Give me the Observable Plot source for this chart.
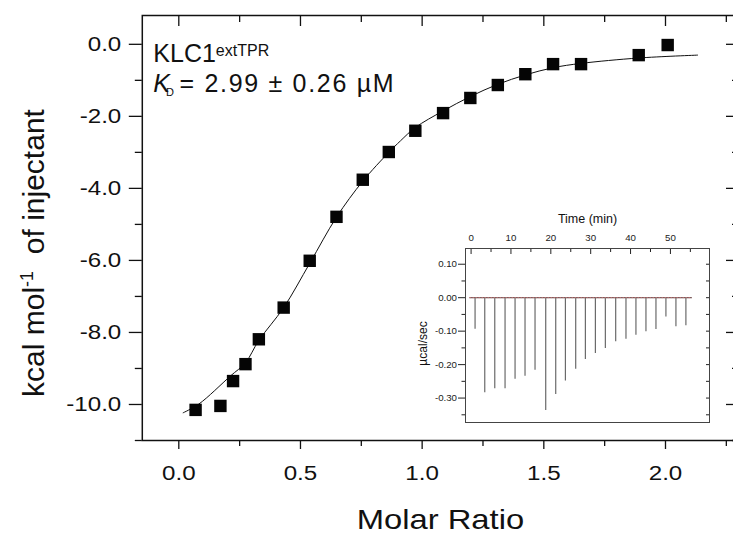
<!DOCTYPE html>
<html><head><meta charset="utf-8">
<script src="https://cdn.jsdelivr.net/npm/d3@7"></script>
<script src="https://cdn.jsdelivr.net/npm/@observablehq/plot@0.6"></script>
<style>
body{margin:0;background:#fff;}
#wrap{position:relative;width:733px;height:534px;overflow:hidden;background:#fff;}
#main{position:absolute;left:0;top:0;}
#inset{position:absolute;left:400px;top:200px;}
#wrap svg{max-width:none !important;}
svg text{font-family:"Liberation Sans",Arial,Helvetica,sans-serif;}
</style></head><body>
<div id="wrap"><div id="main"></div><div id="inset"></div></div>
<script>
// ---- main isotherm data (integrated heats) ----
const molarRatio = [0.069, 0.171, 0.223, 0.274, 0.329, 0.431, 0.538, 0.648, 0.756, 0.863, 0.972, 1.086, 1.198, 1.311, 1.424, 1.538, 1.653, 1.890, 2.009];
const heat = [-10.15, -10.04, -9.35, -8.88, -8.19, -7.31, -6.01, -4.79, -3.76, -2.99, -2.40, -1.91, -1.49, -1.13, -0.83, -0.55, -0.55, -0.30, -0.02];
// ---- fitted curve ----
const fitRatio = [0.018, 0.082, 0.212, 0.274, 0.329, 0.431, 0.538, 0.648, 0.756, 0.863, 0.911, 0.972, 1.086, 1.198, 1.311, 1.424, 1.538, 1.653, 1.890, 2.132];
const fitHeat = [-10.23, -9.99, -9.21, -8.84, -8.22, -7.31, -6.08, -4.80, -3.80, -3.00, -2.68, -2.31, -1.85, -1.45, -1.11, -0.85, -0.65, -0.53, -0.38, -0.30];
// ---- main axis ticks ----
const xMajor = [0, 0.5, 1.0, 1.5, 2.0];
const xMinor = [0.25, 0.75, 1.25, 1.75, 2.25];
const yMajor = [0, -2, -4, -6, -8, -10];
const yMinor = [-1, -3, -5, -7, -9, -11];
// ---- inset raw thermogram ----
const injTime = [1.0, 3.43, 5.94, 8.52, 11.03, 13.53, 16.04, 18.72, 21.23, 23.66, 26.24, 28.67, 31.18, 33.68, 36.27, 38.85, 41.35, 43.86, 46.37, 48.87, 51.38, 53.88];
const injPeak = [-0.094, -0.284, -0.272, -0.272, -0.244, -0.235, -0.217, -0.337, -0.289, -0.249, -0.214, -0.185, -0.167, -0.152, -0.132, -0.124, -0.112, -0.102, -0.095, -0.058, -0.087, -0.084];
const baselineTime = [-0.3, 55.5];
const timeMajor = [0, 10, 20, 30, 40, 50];
const timeMinor = [5, 15, 25, 35, 45, 55];
const powerMajor = [0.10, 0.00, -0.10, -0.20, -0.30];
const powerMinor = [0.05, -0.05, -0.15, -0.25, -0.35];
// ---- texts ----
const yLabel = ["kcal mol", "-1", "  of injectant"];
const xLabel = "Molar Ratio";
const protein = ["KLC1", "extTPR"];
const kd = ["K", "D", "= 2.99 ± 0.26 µM"];
const timeLabel = "Time (min)";
const powerLabel = "µcal/sec";

const FONT = "Liberation Sans, Arial, Helvetica, sans-serif";
const INK = "#111";
const points = molarRatio.map((x, i) => ({x, y: heat[i]}));
const fit = fitRatio.map((x, i) => ({x, y: fitHeat[i]}));
const f1 = d => d.toFixed(1);
const f2 = d => d.toFixed(2);

const main = Plot.plot({
  width: 760, height: 534,
  marginLeft: 141.8, marginRight: 22, marginTop: 15, marginBottom: 94,
  style: {fontFamily: FONT, background: "transparent", color: INK, overflow: "visible", maxWidth: "none"},
  x: {domain: [-0.15, 2.3]},
  y: {domain: [-11, 0.8]},
  marks: [
    Plot.axisX(xMajor, {anchor: "bottom", tickSize: 9, tickPadding: 16, fontSize: 21, tickFormat: f1, label: null, strokeWidth: 1.3}),
    Plot.axisX(xMinor, {anchor: "bottom", tickSize: 6, fill: "none", label: null, strokeWidth: 1.3}),
    Plot.axisX(xMajor, {anchor: "top", tickSize: -10, fill: "none", label: null, strokeWidth: 1.3}),
    Plot.axisX(xMinor, {anchor: "top", tickSize: -6, fill: "none", label: null, strokeWidth: 1.3}),
    Plot.axisY(yMajor, {anchor: "left", tickSize: 13, tickPadding: 8, fontSize: 21, tickFormat: f1, label: null, strokeWidth: 1.3}),
    Plot.axisY(yMinor, {anchor: "left", tickSize: 7, fill: "none", label: null, strokeWidth: 1.3}),
    Plot.axisY(yMajor, {anchor: "right", tickSize: -13, fill: "none", label: null, strokeWidth: 1.3}),
    Plot.axisY(yMinor, {anchor: "right", tickSize: -7, fill: "none", label: null, strokeWidth: 1.3}),
    Plot.frame({stroke: INK, strokeWidth: 1.5}),
    Plot.line(fit, {x: "x", y: "y", stroke: INK, strokeWidth: 1, curve: "catmull-rom"}),
    Plot.dot(points, {x: "x", y: "y", symbol: "square", r: 7, fill: "#050505", stroke: "none"}),
    Plot.text([yLabel.join("")], {frameAnchor: "left", dx: -98.8, dy: 25, rotate: -90, textAnchor: "middle", lineAnchor: "bottom", fontSize: 30, fill: INK}),
    Plot.text([xLabel], {frameAnchor: "bottom", dx: 0, dy: 88, textAnchor: "middle", lineAnchor: "bottom", fontSize: 28, fill: INK}),
    Plot.text([protein.join("")], {frameAnchor: "top-left", dx: 11, dy: 46.7, lineAnchor: "bottom", textAnchor: "start", fontSize: 25, fill: INK}),
    Plot.text([kd.join("")], {frameAnchor: "top-left", dx: 11, dy: 76.7, lineAnchor: "bottom", textAnchor: "start", fontSize: 25, fill: INK})
  ]
});

const inset = Plot.plot({
  width: 320, height: 230,
  marginLeft: 65, marginRight: 11, marginTop: 48, marginBottom: 8,
  style: {fontFamily: FONT, background: "transparent", color: "#222", overflow: "visible", maxWidth: "none"},
  x: {domain: [-1.4, 59.8]},
  y: {domain: [-0.373, 0.147]},
  marks: [
    Plot.frame({fill: "white", stroke: "none"}),
    Plot.ruleY([0], {x1: baselineTime[0], x2: baselineTime[1], stroke: "#333", strokeWidth: 1}),
    Plot.ruleX(injTime.map((t, i) => ({t, p: injPeak[i]})), {x: "t", y1: 0, y2: "p", stroke: "#6a6a6a", strokeWidth: 1.2}),
    Plot.ruleY([0], {x1: baselineTime[0], x2: baselineTime[1], stroke: "#ee7777", strokeWidth: 1, strokeOpacity: 0.75, strokeDasharray: "2,1"}),
    Plot.axisX(timeMajor, {anchor: "top", tickSize: 0, tickPadding: 8, fontSize: 9.7, label: null}),
    Plot.axisX(timeMajor, {anchor: "top", tickSize: -5, fill: "none", label: null}),
    Plot.axisX(timeMinor, {anchor: "top", tickSize: -3, fill: "none", label: null}),
    Plot.axisY(powerMajor, {anchor: "left", tickSize: 7, tickPadding: 1.5, fontSize: 9.7, tickFormat: f2, label: null}),
    Plot.axisY(powerMinor, {anchor: "left", tickSize: 3.5, fill: "none", label: null}),
    Plot.axisY(powerMajor, {anchor: "right", tickSize: -4, fill: "none", label: null}),
    Plot.axisY(powerMinor, {anchor: "right", tickSize: -4, fill: "none", label: null}),
    Plot.frame({stroke: "#444", strokeWidth: 1}),
    Plot.text([timeLabel], {frameAnchor: "top", dy: -26, textAnchor: "middle", lineAnchor: "bottom", fontSize: 12.5, fill: "#111"}),
    Plot.text([powerLabel], {frameAnchor: "left", dx: -39, dy: 8, rotate: -90, textAnchor: "middle", lineAnchor: "bottom", fontSize: 12, fill: "#111"})
  ]
});

document.getElementById("main").appendChild(main);
document.getElementById("inset").appendChild(inset);

// widen texts horizontally (reference font is wider than it is tall)
function stretch(svg, selector, s) {
  svg.querySelectorAll(selector).forEach(el => {
    const t = el.getAttribute("transform") || "";
    el.setAttribute("transform", t + ` scale(${s},1)`);
  });
}
stretch(main, 'g[aria-label="x-axis tick label"] text', 1.15);
stretch(main, 'g[aria-label="y-axis tick label"] text', 1.15);

function findText(svg, full) {
  return Array.from(svg.querySelectorAll("text")).find(t => t.textContent === full);
}
const xl = findText(main, xLabel);
if (xl) xl.setAttribute("transform", (xl.getAttribute("transform") || "") + " scale(1.17,1)");

function rich(svg, full, parts) {
  const text = findText(svg, full);
  if (!text) return;
  while (text.firstChild) text.removeChild(text.firstChild);
  for (const [str, attrs] of parts) {
    const ts = document.createElementNS("http://www.w3.org/2000/svg", "tspan");
    ts.textContent = str;
    for (const k in attrs) ts.setAttribute(k, attrs[k]);
    text.appendChild(ts);
  }
}
rich(main, yLabel.join(""), [[yLabel[0], {}], [yLabel[1], {"font-size": 18, dy: -11}], [yLabel[2], {dy: 11}]]);
rich(main, protein.join(""), [[protein[0], {}], [protein[1], {"font-size": 16, dy: -6.7}]]);
rich(main, kd.join(""), [[kd[0], {"font-style": "italic"}], [kd[1], {"font-size": 11, dy: 3.3, dx: -4}], [kd[2], {dy: -3.3, dx: 5.5, "letter-spacing": "1.7px"}]]);
</script>
</body></html>
